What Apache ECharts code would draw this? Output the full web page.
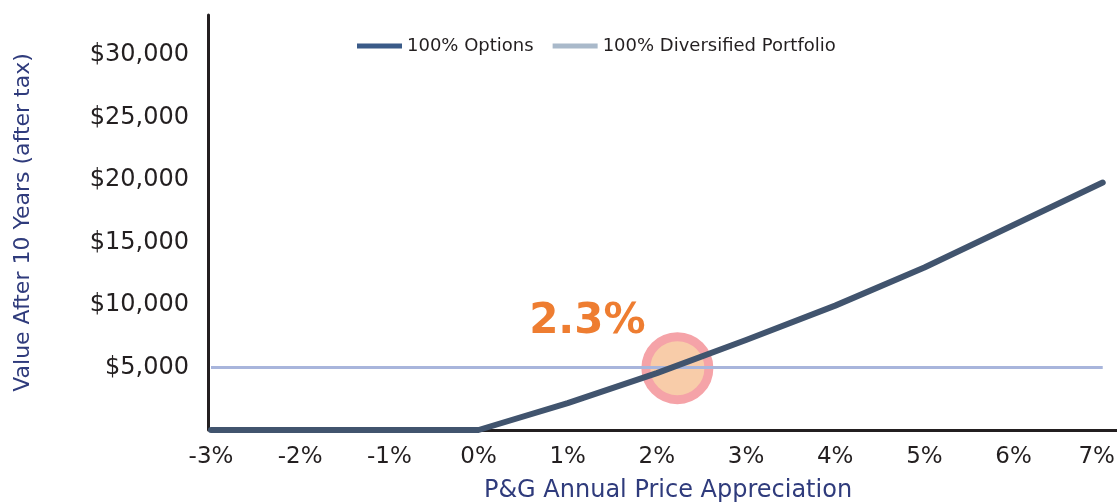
<!DOCTYPE html>
<html>
<head>
<meta charset="utf-8">
<script src="https://cdn.jsdelivr.net/npm/echarts@6/dist/echarts.min.js"></script>
<style>
html,body{margin:0;padding:0;background:#fff;}
#chart{width:1117px;height:504px;}
</style>
</head>
<body>
<div id="chart"></div>
<script>
// ---- data ----
var seriesNames = ['100% Options', '100% Diversified Portfolio'];
var optionsX = [-3, -2, -1, 0, 1, 2, 3, 4, 5, 6, 7];
var optionsValues = [0, 0, 0, 0, 2150, 4550, 7200, 9950, 13000, 16400, 19800];
var diversifiedX = [-3, 7];
var diversifiedValues = [5000, 5000];
var breakEvenX = 2.23;
var breakEvenValue = 4950;
var breakEvenLabel = '2.3%';
var xTickValues = [-3, -2, -1, 0, 1, 2, 3, 4, 5, 6, 7];
var yTickValues = [5000, 10000, 15000, 20000, 25000, 30000];

var FONT = 'DejaVu Sans';
var optData = optionsX.map(function (x, i) { return [x, optionsValues[i]]; });
var divData = diversifiedX.map(function (x, i) { return [x, diversifiedValues[i]]; });
var lastX = xTickValues[xTickValues.length - 1];

var chart = echarts.init(document.getElementById('chart'));
chart.setOption({
  animation: false,
  backgroundColor: '#ffffff',
  grid: { left: 211, right: 0, top: 15, bottom: 74, containLabel: false, outerBoundsMode: 'none' },
  legend: {
    left: 357, top: 37, padding: 0, itemGap: 19, itemWidth: 45, itemHeight: 5,
    icon: 'rect',
    textStyle: { fontFamily: FONT, fontSize: 18, color: '#231f20' },
    data: [
      { name: seriesNames[0], itemStyle: { color: '#3a5b88' } },
      { name: seriesNames[1], itemStyle: { color: '#a9b9ca' } }
    ]
  },
  xAxis: {
    type: 'value', min: -3, max: 7.16, interval: 1,
    name: 'P&G Annual Price Appreciation', nameLocation: 'middle', nameGap: 49,
    nameTextStyle: { fontFamily: FONT, fontSize: 24, color: '#2f3b7c', padding: [0, 0, 0, 8] },
    axisLine: { show: true, onZero: false, lineStyle: { color: '#231f20', width: 3 } },
    axisTick: { show: false },
    splitLine: { show: false },
    axisLabel: {
      margin: 16, fontFamily: FONT, fontSize: 23, color: '#231f20',
      showMaxLabel: true,
      rich: { last: { fontFamily: FONT, fontSize: 23, color: '#231f20', padding: [0, 12, 0, 0] } },
      formatter: function (v) {
        if (xTickValues.indexOf(v) < 0) return '';
        return v === lastX ? '{last|' + v + '%}' : v + '%';
      }
    }
  },
  yAxis: {
    type: 'value', min: 0, max: 33200, interval: 5000, offset: 3,
    name: 'Value After 10 Years (after tax)', nameLocation: 'middle', nameGap: 174,
    nameTextStyle: { fontFamily: FONT, fontSize: 22, color: '#2f3b7c' },
    axisLine: { show: true, onZero: false, lineStyle: { color: '#231f20', width: 3 } },
    axisTick: { show: false },
    splitLine: { show: false },
    axisLabel: {
      margin: 19, fontFamily: FONT, fontSize: 24, color: '#231f20',
      formatter: function (v) { return yTickValues.indexOf(v) >= 0 ? '$' + v.toLocaleString('en-US') : ''; }
    }
  },
  series: [
    {
      name: 'break-even', type: 'scatter', z: 1, silent: true,
      data: [[breakEvenX, breakEvenValue]],
      symbol: 'circle', symbolSize: 63,
      itemStyle: { color: '#f8cca9', borderColor: '#f5a3a8', borderWidth: 9, opacity: 1 },
      label: {
        show: true, formatter: breakEvenLabel, position: 'inside', offset: [-90, -46],
        fontFamily: FONT, fontWeight: 'bold', fontSize: 42, color: '#ee7d31'
      }
    },
    {
      name: seriesNames[1], type: 'line', z: 3, data: divData,
      symbol: 'none', lineStyle: { color: '#a8b5dc', width: 3 },
      itemStyle: { color: '#a9b9ca' }
    },
    {
      name: seriesNames[0], type: 'line', z: 4, data: optData,
      symbol: 'none', smooth: false,
      lineStyle: { color: '#41546e', width: 6, cap: 'round', join: 'round' },
      itemStyle: { color: '#3a5b88' }
    }
  ]
});
</script>
</body>
</html>
